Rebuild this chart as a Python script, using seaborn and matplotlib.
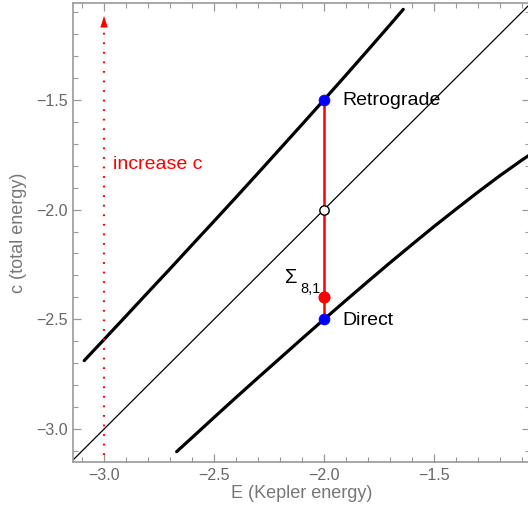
import numpy as np
import pandas as pd
import seaborn as sns
import matplotlib.pyplot as plt
from matplotlib.ticker import MultipleLocator

# curves (E = Kepler energy, c = total energy)
retro_E = [-3.09, -3.0, -2.9, -2.8, -2.7, -2.6, -2.5, -2.4, -2.3, -2.2,
           -2.1, -2.0, -1.9, -1.8, -1.7, -1.64]
retro_c = [-2.688, -2.592, -2.485, -2.377, -2.270, -2.161, -2.053, -1.944,
           -1.834, -1.723, -1.612, -1.500, -1.387, -1.273, -1.158, -1.088]
direct_E = [-2.67, -2.6, -2.5, -2.4, -2.3, -2.2, -2.1, -2.0, -1.9, -1.8,
            -1.7, -1.6, -1.5, -1.4, -1.3, -1.2, -1.1, -1.07]
direct_c = [-3.103, -3.039, -2.947, -2.856, -2.766, -2.677, -2.588, -2.500,
            -2.413, -2.327, -2.242, -2.159, -2.077, -1.998, -1.920, -1.845,
            -1.774, -1.754]
diag_E = [-3.2, -1.0]
diag_c = [-3.2, -1.0]

# section at E = -2
sect_E = [-2.0, -2.0]
sect_c = [-1.5, -2.5]
blue_E = [-2.0, -2.0]
blue_c = [-1.5, -2.5]
red_pt = (-2.0, -2.4)
open_pt = (-2.0, -2.0)

# "increase c" arrow
arrow_E = -3.0
arrow_c = [-3.12, -1.105]

sns.set_theme(style="ticks")
plt.rcParams['font.family'] = ['Liberation Sans', 'DejaVu Sans']
plt.rcParams['axes.unicode_minus'] = True

fig = plt.figure(figsize=(5.28, 5.22), dpi=100)
ax = fig.add_axes([73/528, 60/522, 457/528, 459/522])

gray = '#999999'
sns.lineplot(x=diag_E, y=diag_c, ax=ax, color='black', lw=0.9, sort=False, estimator=None)
sns.lineplot(x=retro_E, y=retro_c, ax=ax, color='black', lw=2.3, sort=False, estimator=None)
sns.lineplot(x=direct_E, y=direct_c, ax=ax, color='black', lw=2.3, sort=False, estimator=None)
sns.lineplot(x=sect_E, y=sect_c, ax=ax, color='red', lw=1.8, sort=False, estimator=None)

# dotted arrow
ax.plot([arrow_E, arrow_E], [arrow_c[0], arrow_c[1] - 0.05], color='red',
        lw=1.6, linestyle=(0, (0.8, 3.5)))
ax.annotate('', xy=(arrow_E, arrow_c[1]), xytext=(arrow_E, arrow_c[1] - 0.06),
            arrowprops=dict(arrowstyle='-|>,head_length=0.7,head_width=0.22',
                            color='red', lw=0))

sns.scatterplot(x=blue_E, y=blue_c, ax=ax, color='blue', s=60, edgecolor='blue', zorder=5)
ax.scatter([red_pt[0]], [red_pt[1]], color='red', s=60, zorder=5)
ax.scatter([open_pt[0]], [open_pt[1]], facecolor='white', edgecolor='black',
           s=45, lw=1.0, zorder=5)

ax.text(-1.918, -1.505, 'Retrograde', fontsize=14, va='center', ha='left', color='black')
ax.text(-1.918, -2.505, 'Direct', fontsize=14, va='center', ha='left', color='black')
ax.text(-2.96, -1.795, 'increase c', fontsize=14, color='red', va='center', ha='left')
ax.text(-2.177, -2.309, '\u03a3', fontsize=14.5, va='center', ha='left', color='black')
ax.text(-2.109, -2.36, '8,1', fontsize=10.5, va='center', ha='left', color='black')

ax.set_xlim(-3.141, -1.064)
ax.set_ylim(-3.15, -1.059)
ax.xaxis.set_major_locator(MultipleLocator(0.5))
ax.xaxis.set_minor_locator(MultipleLocator(0.1))
ax.yaxis.set_major_locator(MultipleLocator(0.5))
ax.yaxis.set_minor_locator(MultipleLocator(0.1))
ax.xaxis.set_major_formatter(lambda v, p: f'{v:.1f}'.replace('-', '\u2212'))
ax.yaxis.set_major_formatter(lambda v, p: f'{v:.1f}'.replace('-', '\u2212'))

for s in ax.spines.values():
    s.set_color(gray)
    s.set_linewidth(1.2)
ax.tick_params(which='both', direction='in', color=gray, top=True, right=True,
               labelcolor='#666666', labelsize=11.5)
ax.tick_params(which='major', length=6, width=0.9)
ax.tick_params(which='minor', length=3.5, width=0.8)
ax.tick_params(axis='x', which='major', pad=4)
ax.tick_params(axis='y', which='major', pad=3.5)

ax.set_xlabel('E (Kepler energy)', fontsize=13, color='#777777', labelpad=2)
ax.set_ylabel('c (total energy)', fontsize=13, color='#777777', labelpad=7)

fig.savefig('out.png', dpi=100)
